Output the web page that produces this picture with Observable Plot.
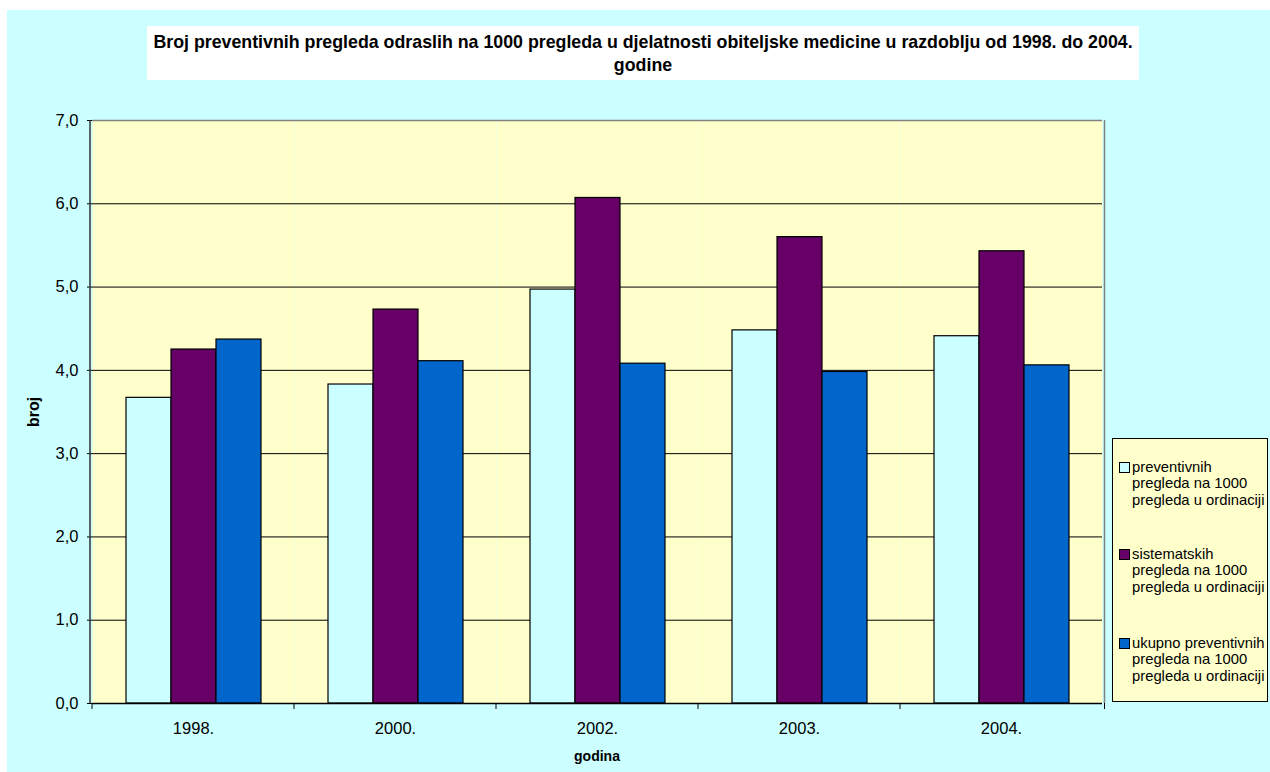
<!DOCTYPE html>
<html>
<head>
<meta charset="utf-8">
<script src="https://cdn.jsdelivr.net/npm/d3@7"></script>
<script src="https://cdn.jsdelivr.net/npm/@observablehq/plot@0.6"></script>
<style>
  html, body { margin: 0; padding: 0; background: #fff; }
  #wrap { position: relative; width: 1270px; height: 772px; overflow: hidden; background: #fff;
          font-family: "Liberation Sans", Arial, sans-serif; color: #000; }
  #bg { position: absolute; left: 7px; top: 10px; right: 0; bottom: 0; background: #CCFFFF; }
  #title { position: absolute; left: 147px; top: 26px; width: 992px; height: 54px; background: #fff;
           font-weight: bold; font-size: 17.8px; line-height: 23px; text-align: center; padding-top: 5px; box-sizing: border-box; }
  #chart { position: absolute; left: 0; top: 0; }
  #ylab { position: absolute; left: 34px; top: 412px; transform: translate(-50%, -50%) rotate(-90deg);
          font-weight: bold; font-size: 16px; white-space: nowrap; }
  #xlab { position: absolute; left: 597px; top: 756px; transform: translate(-50%, -50%);
          font-weight: bold; font-size: 14px; white-space: nowrap; }
  #legend { position: absolute; left: 1112px; top: 438px; width: 156px; height: 264px; box-sizing: border-box;
            background: #FFFFCC; border: 1px solid #000; }
  .entry { position: absolute; left: 0; font-size: 14.8px; line-height: 16.7px; }
  .sw { position: absolute; left: 6px; top: 3px; width: 11px; height: 11px; box-sizing: border-box; border: 1px solid #000; }
  .txt { position: absolute; left: 19px; top: 0; white-space: pre; }
</style>
</head>
<body>
<div id="wrap">
  <div id="bg"></div>
  <div id="title"></div>
  <div id="chart"></div>
  <div id="ylab"></div>
  <div id="xlab"></div>
  <div id="legend"></div>
</div>
<script>
// ---- data ----
const years = ["1998.", "2000.", "2002.", "2003.", "2004."];
const seriesNames = [
  "preventivnih pregleda na 1000 pregleda u ordinaciji",
  "sistematskih pregleda na 1000 pregleda u ordinaciji",
  "ukupno preventivnih pregleda na 1000 pregleda u ordinaciji"
];
const legendLines = [
  ["preventivnih", "pregleda na 1000", "pregleda u ordinaciji"],
  ["sistematskih", "pregleda na 1000", "pregleda u ordinaciji"],
  ["ukupno preventivnih", "pregleda na 1000", "pregleda u ordinaciji"]
];
const preventivnih = [3.67, 3.83, 4.97, 4.48, 4.41];
const sistematskih = [4.25, 4.73, 6.07, 5.60, 5.43];
const ukupno = [4.37, 4.11, 4.08, 3.98, 4.06];
const colors = ["#CCFFFF", "#660066", "#0066CC"];
const yTicks = [0, 1, 2, 3, 4, 5, 6, 7];
const titleText = "Broj preventivnih pregleda odraslih na 1000 pregleda u djelatnosti obiteljske medicine u razdoblju od 1998. do 2004. godine";
const yLabel = "broj";
const xLabel = "godina";

// ---- table ----
const seriesValues = [preventivnih, sistematskih, ukupno];
const data = [];
years.forEach((yr, i) => {
  seriesNames.forEach((s, j) => data.push({year: yr, series: s, value: seriesValues[j][i]}));
});

document.getElementById("title").innerHTML =
  titleText.replace(" godine", "<br>godine");
document.getElementById("ylab").textContent = yLabel;
document.getElementById("xlab").textContent = xLabel;

const fmt = d => d.toFixed(1).replace(".", ",");

const chart = Plot.plot({
  width: 1270,
  height: 772,
  marginLeft: 90,
  marginRight: 165.5,
  marginTop: 120,
  marginBottom: 69,
  style: {background: "transparent", fontFamily: "'Liberation Sans', Arial, sans-serif", fontSize: "16.5px", color: "#000"},
  fx: {domain: years, padding: 0, label: null},
  x: {domain: seriesNames, paddingInner: 0, paddingOuter: 0.736, axis: null},
  y: {domain: [0, 7], label: null},
  color: {domain: seriesNames, range: colors},
  marks: [
    Plot.frame({fill: "#FFFFCC", stroke: "none"}),
    Plot.ruleY(yTicks.filter(d => d > 0 && d < 7), {stroke: "#000", strokeWidth: 1}),
    Plot.ruleY([7], {stroke: "#808080", strokeWidth: 1.5}),
    Plot.barY(data, {fx: "year", x: "series", y: "value", fill: "series", stroke: "#000", strokeWidth: 1.2}),
    Plot.ruleY([0], {stroke: "#000", strokeWidth: 1.5}),
    Plot.axisY({ticks: yTicks, tickFormat: fmt, tickSize: 5, tickPadding: 9, label: null}),
    Plot.axisFx({anchor: "bottom", tickSize: 0, tickPadding: 19, label: null})
  ]
});
document.getElementById("chart").appendChild(chart);

// frame edges and category boundary ticks from the library's scales
const fxS = chart.scale("fx");
const yS = chart.scale("y");
const svg = d3.select(chart);
const y0 = yS.apply(0), y7 = yS.apply(7);
const left = fxS.range[0], right = fxS.range[1];
const g = svg.append("g");
g.append("line").attr("x1", left).attr("x2", left).attr("y1", y7).attr("y2", y0)
  .attr("stroke", "#333").attr("stroke-width", 1.5);
g.append("line").attr("x1", right).attr("x2", right).attr("y1", y7).attr("y2", y0)
  .attr("stroke", "#808080").attr("stroke-width", 1.5);
const bounds = years.map(yr => fxS.apply(yr)).concat([right]);
bounds.forEach(x => {
  g.append("line").attr("x1", x).attr("x2", x).attr("y1", y0).attr("y2", y0 + 6)
    .attr("stroke", "#000").attr("stroke-width", 1);
});

// legend
const leg = d3.select("#legend");
const entryTops = [19.6, 106.6, 195.6];
seriesNames.forEach((s, j) => {
  const e = leg.append("div").attr("class", "entry").style("top", entryTops[j] + "px");
  e.append("div").attr("class", "sw").style("background", colors[j]);
  e.append("div").attr("class", "txt").text(legendLines[j].join("\n"));
});
</script>
</body>
</html>
